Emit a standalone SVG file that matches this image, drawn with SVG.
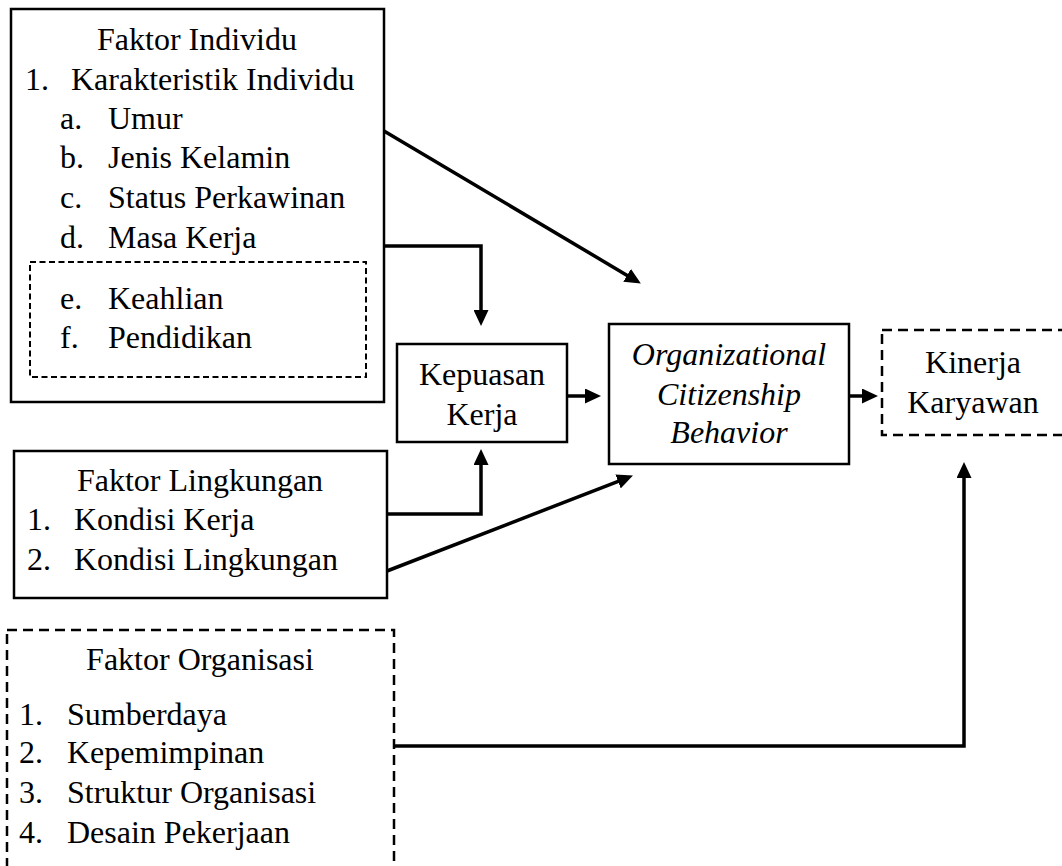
<svg xmlns="http://www.w3.org/2000/svg" width="1062" height="866" viewBox="0 0 1062 866">
<style>
text{font-family:"Liberation Serif","Times New Roman",serif;font-size:32px;fill:#000}
.c{text-anchor:middle}
.i{font-style:italic}
.box{fill:#fff;stroke:#000;stroke-width:2.5}
.dash{fill:none;stroke:#000;stroke-width:2.5;stroke-dasharray:10,6}
.dsm{fill:none;stroke:#000;stroke-width:2;stroke-dasharray:6,3.5}
.ln{fill:none;stroke:#000;stroke-width:3.5;marker-end:url(#ah)}
.ln0{fill:none;stroke:#000;stroke-width:3.5}
</style>
<defs>
<marker id="ah" markerUnits="userSpaceOnUse" markerWidth="16" markerHeight="15" refX="5" refY="7.5" orient="auto">
<path d="M0,0 L16,7.5 L0,15 z" fill="#000"/>
</marker>
</defs>
<rect width="1062" height="866" fill="#fff"/>
<g id="individu">
<rect class="box" x="11" y="9" width="373" height="393"/>
<rect class="dsm" x="30" y="262" width="336" height="115"/>
<text class="c" x="197" y="50">Faktor Individu</text>
<text x="25" y="90">1.</text><text x="71" y="90">Karakteristik Individu</text>
<text x="60" y="129">a.</text><text x="108" y="129">Umur</text>
<text x="60" y="168">b.</text><text x="108" y="168">Jenis Kelamin</text>
<text x="60" y="208">c.</text><text x="108" y="208">Status Perkawinan</text>
<text x="60" y="248">d.</text><text x="108" y="248">Masa Kerja</text>
<text x="60" y="309">e.</text><text x="108" y="309">Keahlian</text>
<text x="60" y="348">f.</text><text x="108" y="348">Pendidikan</text>
</g>
<g id="kepuasan">
<rect class="box" x="397" y="344" width="170" height="98"/>
<text class="c" x="482" y="385">Kepuasan</text>
<text class="c" x="482" y="425">Kerja</text>
</g>
<g id="ocb">
<rect class="box" x="609" y="324" width="240" height="140"/>
<text class="c i" x="729" y="365">Organizational</text>
<text class="c i" x="729" y="405">Citizenship</text>
<text class="c i" x="729" y="443">Behavior</text>
</g>
<g id="kinerja">
<rect class="dash" x="882" y="330" width="190" height="105"/>
<text class="c" x="973" y="373">Kinerja</text>
<text class="c" x="973" y="413">Karyawan</text>
</g>
<g id="lingkungan">
<rect class="box" x="14" y="451" width="373" height="147"/>
<text class="c" x="200" y="491">Faktor Lingkungan</text>
<text x="27" y="530">1.</text><text x="74" y="530">Kondisi Kerja</text>
<text x="27" y="570">2.</text><text x="74" y="570">Kondisi Lingkungan</text>
</g>
<g id="organisasi">
<rect class="dash" x="7" y="630" width="387" height="260"/>
<text class="c" x="200" y="670">Faktor Organisasi</text>
<text x="19" y="725">1.</text><text x="67" y="725">Sumberdaya</text>
<text x="19" y="763">2.</text><text x="67" y="763">Kepemimpinan</text>
<text x="19" y="803">3.</text><text x="67" y="803">Struktur Organisasi</text>
<text x="19" y="843">4.</text><text x="67" y="843">Desain Pekerjaan</text>
</g>
<g id="connectors">
<path class="ln" d="M384,131 L631.4,277.9"/>
<path class="ln" d="M384,246 L481,246 L481,315"/>
<path class="ln" d="M567,396 L590,396"/>
<path class="ln" d="M849,396 L867,396"/>
<path class="ln" d="M387,514 L481,514 L481,460"/>
<path class="ln" d="M387,571 L622.7,479.6"/>
<path class="ln" d="M394,746 L964,746 L964,473"/>
</g>
</svg>
